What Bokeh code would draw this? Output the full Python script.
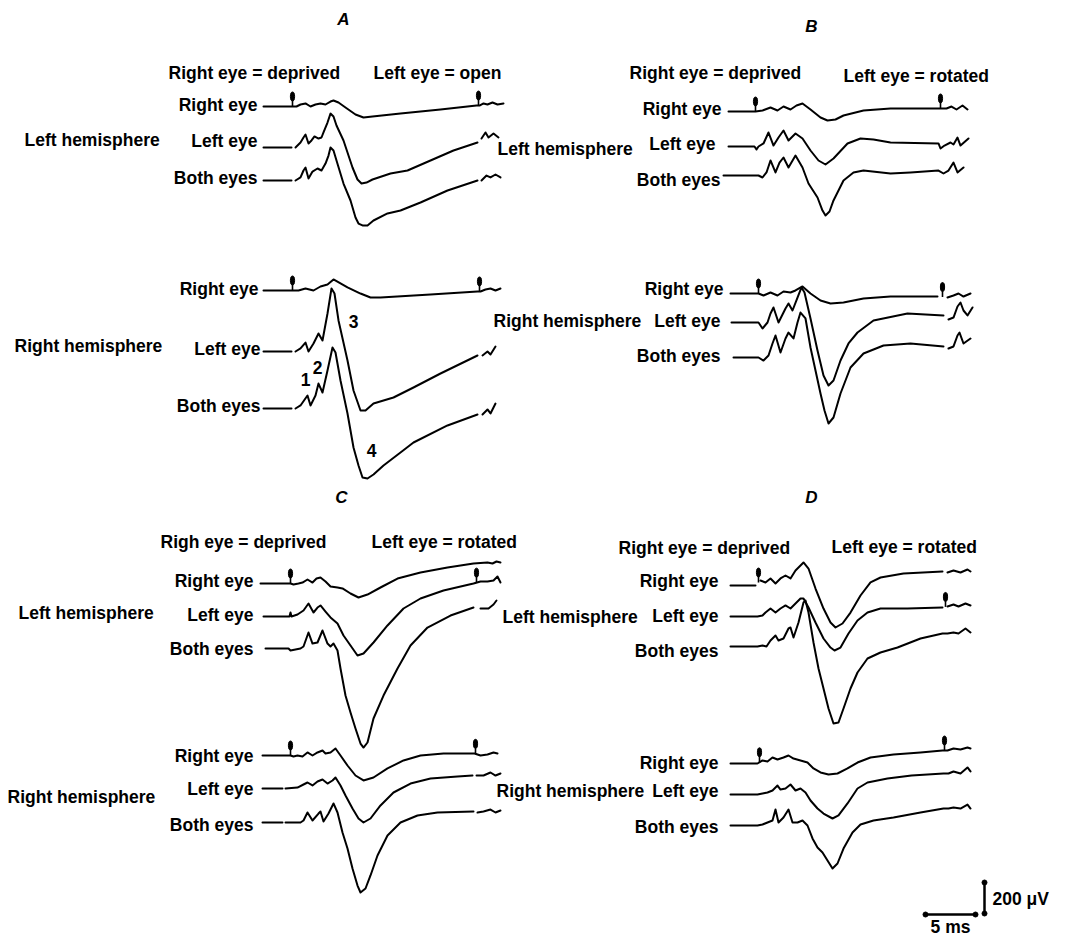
import numpy as np
from bokeh.plotting import figure
from bokeh.models import Range1d
from bokeh.core.properties import value
from bokeh.embed import file_html
from bokeh.resources import INLINE

NaN = float("nan")

# ---------------------------------------------------------------------------
# DATA: evoked potentials. Time in ms after the stimulus, potential in µV
# (positive = upward deflection). NaN marks a break in the pen trace.
# ---------------------------------------------------------------------------
# Panel A - left hemisphere
A_LH_RE_T = [-2.9, 0.0, 0.4, 0.8, 1.3, 1.8, 2.3, 2.8, 3.3, 3.8, 4.1, 4.6, 5.3, 6.3, 7.1, 8.0, 10.8, 14.8, 18.4, 18.7, 19.1, 19.5, 20.0, 20.5, 21.1]
A_LH_RE_V = [0, 0, 0, 12.5, 19, 0, 12.5, 19, 12.5, 31, 37.5, 25, -6, -50, -69, -62.5, -44, -19, 6, 6, 19, 12.5, 25, 12.5, 19]
A_LH_LE_T = [-2.9, -0.1, NaN, 0.3, 0.8, 1.1, 1.3, 1.6, 1.9, 2.2, 2.6, 2.9, 3.1, 3.5, 3.8, 4.1, 4.4, 5.1, 5.6, 6.0, 6.5, 6.9, 7.4, 8.0, 9.8, 11.5, 13.8, 16.1, 18.5, NaN, 18.9, 19.3, 19.6, 20.1, 20.6]
A_LH_LE_V = [0, 0, NaN, 0, 31, 62.5, 81, 25, 44, 69, 56, 62.5, 94, 156, 212, 194, 137.5, 44, -50, -125, -200, -225, -219, -200, -162.5, -144, -81, -19, 31, NaN, 56, 94, 62.5, 87.5, 62.5]
A_LH_BE_T = [-2.9, -0.1, NaN, 0.3, 0.8, 1.1, 1.3, 1.6, 2.0, 2.5, 2.9, 3.3, 3.6, 3.8, 4.1, 4.4, 5.1, 5.8, 6.3, 6.6, 7.0, 7.5, 8.1, 9.5, 10.8, 12.8, 15.5, 18.5, NaN, 18.9, 19.4, 19.8, 20.3, 20.8]
A_LH_BE_V = [0, 0, NaN, 0, 19, 62.5, 81, 12.5, 56, 75, 62.5, 106, 156, 206, 187.5, 125, -19, -125, -231, -269, -281, -281, -250, -206, -187.5, -137.5, -62.5, 0, NaN, 0, 31, 19, 37.5, 19]
# Panel A - right hemisphere
A_RH_RE_T = [-2.9, 0.0, 0.6, 1.3, 2.1, 2.8, 3.5, 4.1, 4.8, 5.5, 6.8, 7.8, 8.8, 13.8, 18.5, 18.8, 19.3, 19.8, 20.3, 20.8]
A_RH_RE_V = [0, 0, 0, 12.5, 0, 25, 37.5, 69, 44, 19, -19, -44, -44, -25, -6, -6, 6, 12.5, 0, 12.5]
A_RH_LE_T = [-2.9, -0.1, NaN, 0.3, 0.8, 1.3, 1.6, 2.1, 2.6, 3.0, 3.5, 3.9, 4.2, 4.6, 5.5, 6.1, 6.8, 7.3, 8.1, 10.1, 12.1, 14.8, 18.5, NaN, 19.0, 19.5, 19.8, 20.3]
A_RH_LE_V = [0, 0, NaN, 0, 19, 56, 0, 50, 112.5, 69, 237.5, 394, 362.5, 194, -56, -244, -369, -369, -325, -287.5, -225, -137.5, -25, NaN, -25, 0, -19, 31]
A_RH_BE_T = [-2.9, -0.1, NaN, 0.3, 0.8, 1.5, 1.8, 2.3, 2.6, 3.0, 3.5, 4.0, 4.3, 4.8, 5.5, 6.1, 6.6, 7.0, 7.5, 8.1, 9.1, 10.8, 12.1, 15.5, 18.5, NaN, 19.0, 19.5, 19.8, 20.3]
A_RH_BE_V = [0, 0, NaN, 0, 19, 81, 19, 81, 156, 100, 237.5, 381, 350, 175, -31, -244, -356, -431, -437.5, -412.5, -356, -275, -212.5, -106, -37.5, NaN, -37.5, -6, -31, 31]

# Panel B - left hemisphere
B_LH_RE_T = [-2.7, 0.0, 0.7, 1.5, 2.2, 2.8, 3.5, 4.1, 4.7, 5.5, 6.5, 7.2, 8.0, 8.8, 10.8, 13.5, 18.5, 19.1, 19.6, 20.1, 20.7, 21.2]
B_LH_RE_V = [0, 0, 6, 25, 6, 31, 12.5, 37.5, 50, 12.5, -37.5, -56, -50, -25, 6, 19, 19, 19, 31, 12.5, 37.5, 12.5]
B_LH_LE_T = [-2.7, -0.1, 0.1, 0.3, 0.8, 1.3, 1.8, 2.3, 2.8, 3.3, 4.0, 4.7, 5.5, 6.3, 7.0, 7.8, 9.2, 10.5, 11.8, 13.5, 18.3, 18.5, 18.9, 19.5, 19.8, 20.2, 20.5, 21.3]
B_LH_LE_V = [0, 0, -19, 0, 19, 87.5, 6, 56, 100, 37.5, 81, 50, -25, -87.5, -112.5, -75, 19, 50, 44, 25, 19, -12.5, 6, 25, 12.5, 56, 6, 50]
B_LH_BE_T = [-3.2, 0.0, 0.3, 0.7, 1.1, 1.5, 2.0, 2.4, 2.8, 3.3, 4.0, 4.7, 5.3, 6.2, 6.7, 7.0, 7.4, 7.8, 8.8, 9.8, 10.8, 13.5, 15.5, 18.3, 18.8, 19.3, 19.8, 20.2, 20.8]
B_LH_BE_V = [0, 0, 0, -12.5, 19, 94, 19, 81, 112.5, 50, 125, 50, -50, -137.5, -219, -250, -225, -156, -31, 19, 31, 12.5, 19, 31, 12.5, 31, 81, 19, 50]
# Panel B - right hemisphere
B_RH_RE_T = [-2.8, 0.0, 0.5, 1.2, 1.9, 2.5, 3.2, 3.7, 4.4, 5.2, 6.2, 7.2, 8.5, 10.5, 13.2, 17.9, NaN, 18.9, 19.5, 20.0, 20.5, 21.2]
B_RH_RE_V = [0, 0, -12.5, 6, -12.5, 12.5, 6, 19, 44, 0, -44, -62.5, -56, -31, -19, -19, NaN, -25, -12.5, 0, -19, 0]
B_RH_LE_T = [-2.7, 0.0, 0.4, 0.9, 1.2, 1.5, 2.0, 2.7, 3.0, 3.4, 3.9, 4.3, 4.6, 5.2, 5.9, 6.5, 7.0, 7.5, 8.2, 9.0, 9.9, 11.5, 14.9, 18.5, NaN, 19.0, 19.5, 19.9, 20.2, 20.5, 20.9, 21.4]
B_RH_LE_V = [0, 0, -37.5, 0, 56, 94, 0, 87.5, 119, 75, 156, 219, 187.5, 25, -175, -331, -394, -362.5, -237.5, -131, -62.5, 12.5, 56, 44, NaN, 19, 31, 100, 125, 75, 44, 94]
B_RH_BE_T = [-2.5, 0.0, 0.5, 1.0, 1.4, 1.7, 2.2, 2.7, 3.0, 3.5, 3.9, 4.2, 4.7, 5.2, 5.7, 6.2, 6.6, 7.0, 7.5, 8.2, 9.2, 10.5, 12.5, 15.2, 18.5, NaN, 19.0, 19.5, 19.9, 20.1, 20.5, 21.2]
B_RH_BE_V = [0, 0, -19, 12.5, 87.5, 137.5, 31, 119, 156, 119, 219, 281, 244, 62.5, -81, -225, -331, -412.5, -375, -225, -62.5, 25, 75, 87.5, 69, NaN, 56, 69, 137.5, 156, 87.5, 119]

# Panel C - left hemisphere
C_LH_RE_T = [-3.0, 0.0, 0.3, 0.8, 1.2, 1.7, 2.2, 2.6, 3.0, 3.5, 4.0, 4.7, 5.2, 6.0, 6.8, 7.7, 9.0, 10.7, 13.0, 15.7, 18.3, 19.7, 20.2, 20.6, 21.0]
C_LH_RE_V = [0, 0, -6, 0, 6, 25, 6, 31, 37.5, 12.5, -19, -25, -31, -62.5, -87.5, -69, -25, 31, 69, 100, 125, 131, 125, 137.5, 131]
C_LH_LE_T = [-2.7, -0.1, 0.0, 0.1, 0.7, 1.3, 1.8, 2.3, 2.7, 3.0, 3.5, 4.0, 4.7, 5.3, 6.0, 6.7, 7.3, 8.3, 9.7, 11.3, 13.0, 15.3, 18.3, 19.0, 19.7, 20.3, 20.7, 21.0]
C_LH_LE_V = [0, 0, 25, 0, 12.5, 37.5, 81, 25, 56, 69, 31, -6, -44, -119, -181, -244, -231, -162.5, -56, 50, 112.5, 162.5, 206, 219, 219, 225, 250, 212.5]
C_LH_BE_T = [-2.5, -0.2, 0.0, 0.5, 1.0, 1.3, 1.8, 2.2, 2.7, 3.2, 3.7, 4.0, 4.3, 4.7, 5.0, 5.5, 6.0, 6.5, 7.0, 7.3, 7.7, 8.3, 9.3, 10.7, 12.0, 13.7, 16.0, 18.3, NaN, 19.0, 19.8, 20.3, 20.6]
C_LH_BE_V = [0, 0, -12.5, -6, 0, 12.5, 100, 31, 37.5, 112.5, 31, 12.5, 31, -12.5, -125, -294, -400, -500, -594, -619, -587.5, -437.5, -294, -125, 19, 131, 206, 256, NaN, 250, 250, 275, 300]
# Panel C - right hemisphere
C_RH_RE_T = [-2.8, 0.0, 0.3, 0.7, 1.2, 1.7, 2.2, 2.7, 3.2, 3.5, 4.0, 4.5, 5.0, 5.7, 6.5, 7.3, 8.3, 9.7, 11.3, 13.0, 15.3, 18.4, 19.0, 19.7, 20.3, 20.7]
C_RH_RE_V = [0, 0, -6, 0, -6, 19, 0, 19, 31, 12.5, 19, 44, 0, -62.5, -125, -156, -137.5, -81, -31, 0, 12.5, 12.5, 0, 6, 19, 12.5]
C_RH_LE_T = [-2.8, -0.8, NaN, -0.5, 0.7, 1.3, 1.7, 2.2, 2.7, 3.2, 3.7, 4.2, 4.5, 5.0, 5.5, 6.2, 6.8, 7.3, 8.0, 9.0, 10.3, 12.0, 14.0, 16.7, 18.2, NaN, 18.6, 19.3, 20.0, 20.5, 21.0]
C_RH_LE_V = [0, 0, NaN, 0, 6, 25, 37.5, 19, 44, 56, 31, 50, 69, 19, -44, -125, -187.5, -212.5, -187.5, -106, -25, 31, 62.5, 75, 81, NaN, 81, 81, 100, 81, 94]
C_RH_BE_T = [-2.8, -0.8, NaN, -0.5, 1.0, 1.3, 1.7, 2.2, 2.8, 3.0, 3.3, 3.8, 4.3, 4.7, 5.2, 5.7, 6.2, 6.7, 7.0, 7.5, 8.0, 8.7, 9.7, 11.0, 12.7, 14.7, 18.3, NaN, 18.7, 19.3, 20.0, 20.5, 21.0]
C_RH_BE_V = [0, 0, NaN, 0, 0, 12.5, 62.5, 12.5, 56, 69, 6, 56, 119, 62.5, -62.5, -162.5, -287.5, -394, -437.5, -412.5, -331, -206, -81, 0, 44, 62.5, 69, NaN, 62.5, 69, 81, 62.5, 75]

# Panel D - left hemisphere
D_LH_RE_T = [-2.8, -0.3, NaN, 0.2, 0.7, 1.2, 1.7, 2.2, 2.7, 3.2, 3.7, 4.1, 4.5, 5.0, 5.7, 6.5, 7.2, 7.7, 8.4, 9.2, 10.2, 11.2, 12.2, 14.5, 18.4, NaN, 18.9, 19.5, 20.2, 20.9, 21.2]
D_LH_RE_V = [0, 0, NaN, 31, 19, 44, 12.5, 44, 62.5, 44, 94, 119, 144, 106, -19, -144, -231, -262.5, -237.5, -169, -62.5, 19, 50, 75, 87.5, NaN, 81, 94, 81, 100, 87.5]
D_LH_LE_T = [-2.8, -0.1, 0.4, 0.7, 1.2, 1.7, 2.2, 2.7, 3.2, 3.7, 4.2, 4.5, 5.0, 5.7, 6.5, 7.2, 7.6, 8.2, 9.0, 9.9, 10.9, 12.2, 14.9, 18.4, NaN, 18.9, 19.5, 20.0, 20.7, 21.2]
D_LH_LE_V = [0, 0, 6, 25, 50, 25, 50, 69, 50, 81, 112.5, 112.5, 56, -37.5, -137.5, -194, -212.5, -194, -106, -25, 25, 50, 50, 56, NaN, 62.5, 75, 62.5, 81, 69]
D_LH_BE_T = [-2.8, -0.1, 0.4, 0.8, 1.2, 1.7, 2.0, 2.5, 3.0, 3.2, 3.5, 4.0, 4.5, 4.7, 5.0, 5.5, 6.0, 6.5, 7.0, 7.5, 8.0, 8.5, 9.2, 9.9, 10.9, 12.2, 13.9, 16.2, 18.4, 18.9, 19.5, 20.0, 20.7, 21.2]
D_LH_BE_V = [0, 0, 6, 0, 37.5, 69, 37.5, 50, 112.5, 119, 56, 150, 275, 287.5, 212.5, 25, -137.5, -262.5, -387.5, -481, -475, -387.5, -262.5, -162.5, -75, -37.5, -6, 50, 81, 81, 87.5, 81, 112.5, 87.5]
# Panel D - right hemisphere
D_RH_RE_T = [-2.9, -0.2, 0.3, 0.8, 1.3, 1.8, 2.4, 2.9, 3.4, 4.1, 4.8, 5.4, 6.1, 6.9, 7.8, 8.8, 9.8, 11.1, 13.4, 16.1, 18.3, 18.8, 19.4, 20.1, 20.8, 21.1]
D_RH_RE_V = [0, 0, 19, 12.5, 37.5, 25, 37.5, 50, 31, 19, 6, -31, -56, -69, -62.5, -31, 6, 37.5, 56, 69, 81, 81, 94, 87.5, 100, 94]
D_RH_LE_T = [-2.9, -0.2, 0.3, 0.8, 1.3, 1.8, 2.1, 2.6, 3.1, 3.6, 4.1, 4.6, 5.1, 5.8, 6.4, 7.3, 7.9, 8.8, 9.8, 10.8, 12.8, 15.2, 18.4, 18.9, 19.4, 20.1, 20.8, 21.1]
D_RH_LE_V = [0, 0, 6, 12.5, 25, 56, 31, 37.5, 62.5, 25, 37.5, 12.5, -37.5, -87.5, -119, -150, -131, -56, 37.5, 75, 100, 119, 131, 131, 144, 131, 169, 144]
D_RH_BE_T = [-2.9, -0.2, 0.3, 0.8, 1.3, 1.6, 1.9, 2.4, 2.9, 3.3, 3.8, 4.3, 4.8, 5.3, 5.8, 6.3, 6.8, 7.3, 7.8, 8.4, 9.3, 10.1, 11.4, 13.4, 16.1, 18.4, 18.9, 19.4, 20.1, 20.8, 21.1]
D_RH_BE_V = [0, 0, 6, 19, 31, 100, 19, 50, 100, 19, 19, 31, 0, -81, -137.5, -169, -219, -269, -237.5, -144, -44, 6, 31, 50, 81, 106, 106, 112.5, 106, 131, 106]

# stimulus markers (ms): first = conditioning stimulus, second = test stimulus
MARK_A = [0.0, 18.6]
MARK_A_RH = [0.0, 18.7]
MARK_B_LH = [0.0, 18.5]
MARK_B_RH = [0.0, 18.4]
MARK_C_LH = [0.0, 18.6]
MARK_C_RH = [0.0, 18.5]
MARK_D_LH = [0.0, 18.7]
MARK_D_RH = [0.0, 18.5]

# calibration
SCALE_MS = 5
SCALE_UV = 200

# ---------------------------------------------------------------------------
# LAYOUT
# ---------------------------------------------------------------------------
PX_PER_MS = 10.0
PX_PER_UV = 32.0 / 200.0
FONT = value("Liberation Sans")
LINE_W = 2.0

W, H = 1063, 935
p = figure(width=W, height=H, output_backend="svg", toolbar_location=None,
           x_range=Range1d(0, W), y_range=Range1d(H, 0),
           x_axis_location=None, y_axis_location=None, min_border=0)
p.xgrid.visible = False
p.ygrid.visible = False
p.outline_line_color = None
p.background_fill_color = "white"
p.border_fill_color = "white"


def to_xy(t, v, sx, by):
    t = np.asarray(t, dtype=float)
    v = np.asarray(v, dtype=float)
    return sx + t * PX_PER_MS, by - v * PX_PER_UV


# (T, V, stimulus x, baseline y, marker times)
TRACES = [
    (A_LH_RE_T, A_LH_RE_V, 292, 106, MARK_A),
    (A_LH_LE_T, A_LH_LE_V, 292, 147, []),
    (A_LH_BE_T, A_LH_BE_V, 292, 180, []),
    (A_RH_RE_T, A_RH_RE_V, 292, 290, MARK_A_RH),
    (A_RH_LE_T, A_RH_LE_V, 292, 351, []),
    (A_RH_BE_T, A_RH_BE_V, 292, 408, []),
    (B_LH_RE_T, B_LH_RE_V, 755, 111, MARK_B_LH),
    (B_LH_LE_T, B_LH_LE_V, 755, 146, []),
    (B_LH_BE_T, B_LH_BE_V, 755, 175, []),
    (B_RH_RE_T, B_RH_RE_V, 758, 293, MARK_B_RH),
    (B_RH_LE_T, B_RH_LE_V, 758, 322, []),
    (B_RH_BE_T, B_RH_BE_V, 758, 357, []),
    (C_LH_RE_T, C_LH_RE_V, 290, 583, MARK_C_LH[:1]),
    (C_LH_LE_T, C_LH_LE_V, 290, 616, MARK_C_LH[1:]),
    (C_LH_BE_T, C_LH_BE_V, 290, 648, []),
    (C_RH_RE_T, C_RH_RE_V, 290, 755, MARK_C_RH),
    (C_RH_LE_T, C_RH_LE_V, 290, 788, []),
    (C_RH_BE_T, C_RH_BE_V, 290, 822, []),
    (D_LH_RE_T, D_LH_RE_V, 758, 585, MARK_D_LH[:1]),
    (D_LH_LE_T, D_LH_LE_V, 758, 616, MARK_D_LH[1:]),
    (D_LH_BE_T, D_LH_BE_V, 758, 646, []),
    (D_RH_RE_T, D_RH_RE_V, 759, 763, MARK_D_RH),
    (D_RH_LE_T, D_RH_LE_V, 759, 794, []),
    (D_RH_BE_T, D_RH_BE_V, 759, 825, []),
]

ax, ay_top, ay_bot, ay_head = [], [], [], []
for T, V, sx, by, marks in TRACES:
    xs, ys = to_xy(T, V, sx, by)
    p.line(xs, ys, line_color="black", line_width=LINE_W, line_join="round", line_cap="round")
    tt = np.asarray(T, float)
    vv = np.asarray(V, float)
    ok = ~np.isnan(tt)
    for m in marks:
        vm = np.interp(m, tt[ok], vv[ok])
        x, y = to_xy([m], [vm], sx, by)
        ax.append(x[0]); ay_bot.append(y[0]); ay_top.append(y[0] - 10); ay_head.append(y[0] - 10)

p.segment(x0=ax, y0=ay_top, x1=ax, y1=ay_bot, line_color="black", line_width=1.6)
p.ellipse(x=ax, y=ay_head, width=4.2, height=9, fill_color="black", line_color="black")

# calibration bars
cal_x, cal_y = 984, 914
vb_top = cal_y - SCALE_UV * PX_PER_UV
p.segment(x0=[cal_x], y0=[vb_top], x1=[cal_x], y1=[cal_y - 1], line_color="black", line_width=2.5)
hb_x0, hb_x1 = 925, 925 + SCALE_MS * PX_PER_MS
p.segment(x0=[hb_x0], y0=[cal_y], x1=[hb_x1], y1=[cal_y], line_color="black", line_width=2.5)
p.scatter(x=[cal_x, cal_x, hb_x0, hb_x1], y=[vb_top, cal_y - 1, cal_y, cal_y], size=5,
          marker="circle", fill_color="black", line_color="black")

# texts
LEFT = [
    ("Right eye = deprived", 168, 72), ("Left eye = open", 373, 72),
    ("Left hemisphere", 24, 139), ("Right hemisphere", 14, 345),
    ("Right eye = deprived", 629, 72), ("Left eye = rotated", 843, 75),
    ("Left hemisphere", 497, 148), ("Right hemisphere", 493, 320),
    ("Righ eye = deprived", 160, 541), ("Left eye = rotated", 371, 541),
    ("Left hemisphere", 18, 612), ("Right hemisphere", 7, 796),
    ("Right eye = deprived", 618, 547), ("Left eye = rotated", 831, 546),
    ("Left hemisphere", 502, 616), ("Right hemisphere", 496, 790),
    ("200 \u03bcV", 992, 898),
]
RIGHT = [
    ("Right eye", 257, 104), ("Left eye", 257, 140), ("Both eyes", 257, 177),
    ("Right eye", 258, 288), ("Left eye", 260, 348), ("Both eyes", 260, 405),
    ("Right eye", 721, 108), ("Left eye", 715, 143), ("Both eyes", 720, 179),
    ("Right eye", 723, 288), ("Left eye", 720, 320), ("Both eyes", 720, 355),
    ("Right eye", 253, 580), ("Left eye", 253, 614), ("Both eyes", 253, 648),
    ("Right eye", 253, 755), ("Left eye", 253, 788), ("Both eyes", 253, 824),
    ("Right eye", 718, 580), ("Left eye", 718, 615), ("Both eyes", 718, 650),
    ("Right eye", 718, 762), ("Left eye", 718, 790), ("Both eyes", 718, 826),
]
CENTER = [("1", 305, 379), ("2", 317, 367), ("3", 353, 321), ("4", 371, 450), ("5 ms", 950, 926)]
TITLES = [("A", 343, 19), ("B", 811, 26), ("C", 341, 497), ("D", 811, 497)]

common = dict(text_font=FONT, text_font_size="17.5px", text_font_style="bold",
              text_color="black", text_baseline="middle")
p.text(x=[a[1] for a in LEFT], y=[a[2] for a in LEFT], text=[a[0] for a in LEFT],
       text_align="left", **common)
p.text(x=[a[1] for a in RIGHT], y=[a[2] for a in RIGHT], text=[a[0] for a in RIGHT],
       text_align="right", **common)
p.text(x=[a[1] for a in CENTER], y=[a[2] for a in CENTER], text=[a[0] for a in CENTER],
       text_align="center", **common)
p.text(x=[a[1] for a in TITLES], y=[a[2] for a in TITLES], text=[a[0] for a in TITLES],
       text_align="center", text_font=FONT, text_font_size="17px", text_font_style="bold italic",
       text_color="black", text_baseline="middle")

open("out.html", "w").write(file_html(p, INLINE))
